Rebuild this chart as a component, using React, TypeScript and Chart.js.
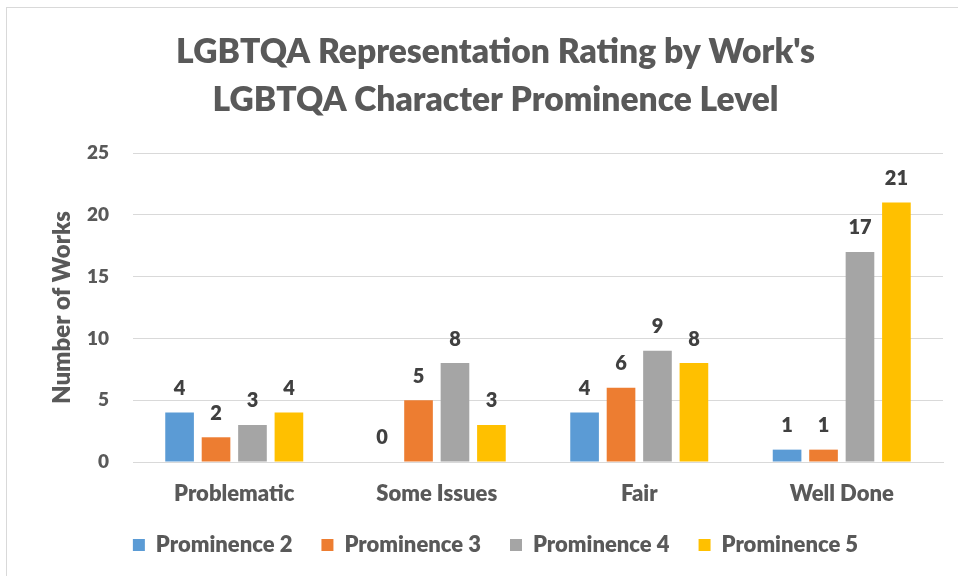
import React, { useEffect, useRef } from "react";
import { Chart, registerables } from "chart.js";

Chart.register(...registerables);

const categories = ["Problematic", "Some Issues", "Fair", "Well Done"];
const seriesNames = ["Prominence 2", "Prominence 3", "Prominence 4", "Prominence 5"];
const prominence2 = [4, 0, 4, 1];
const prominence3 = [2, 5, 6, 1];
const prominence4 = [3, 8, 9, 17];
const prominence5 = [4, 3, 8, 21];
const seriesColors = ["#5B9BD5", "#ED7D31", "#A5A5A5", "#FFC000"];
const titleLines = ["LGBTQA Representation Rating by Work's", "LGBTQA Character Prominence Level"];
const yAxisTitle = "Number of Works";

const FONT = "Lato, 'Open Sans', sans-serif";
const W = "800";

const dataLabels = {
  id: "dataLabels",
  afterDatasetsDraw(chart: any) {
    const ctx = chart.ctx;
    ctx.save();
    ctx.font = `${W} 20px ${FONT}`;
    ctx.fillStyle = "#404040";
    ctx.textAlign = "center";
    ctx.textBaseline = "middle";
    chart.data.datasets.forEach((ds: any, i: number) => {
      const meta = chart.getDatasetMeta(i);
      meta.data.forEach((bar: any, j: number) => {
        ctx.fillText(String(ds.data[j]), bar.x, bar.y - 24);
      });
    });
    ctx.restore();
  },
};

const frame = {
  id: "frame",
  beforeDraw(chart: any) {
    const ctx = chart.ctx;
    ctx.save();
    ctx.fillStyle = "#ffffff";
    ctx.fillRect(0, 0, chart.width, chart.height);
    ctx.strokeStyle = "#d9d9d9";
    ctx.lineWidth = 1;
    ctx.strokeRect(6.5, 7.5, chart.width + 20, chart.height + 20);
    ctx.restore();
  },
};

export default function App() {
  const ref = useRef<HTMLCanvasElement>(null);
  useEffect(() => {
    document.body.style.margin = "0";
    const values = [prominence2, prominence3, prominence4, prominence5];
    const chart = new Chart(ref.current!, {
      type: "bar",
      data: {
        labels: categories,
        datasets: values.map((v, i) => ({
          label: seriesNames[i],
          data: v,
          backgroundColor: seriesColors[i],
          barPercentage: 0.786,
          categoryPercentage: 0.72,
        })),
      },
      options: {
        animation: false,
        responsive: false,
        layout: { padding: { left: 48, right: 15, top: 20, bottom: 10 } },
        plugins: {
          title: {
            display: true,
            text: titleLines,
            color: "#595959",
            font: { family: FONT, size: 33.6, weight: W, lineHeight: 48 / 33.6 },
            padding: { top: 8, bottom: 29 },
          },
          legend: {
            position: "bottom",
            labels: {
              color: "#595959",
              font: { family: FONT, size: 22, weight: W },
              boxWidth: 12,
              boxHeight: 12,
              padding: 29,
            },
          },
          tooltip: { enabled: false },
        },
        scales: {
          x: {
            grid: { display: false, drawTicks: false },
            border: { color: "#d9d9d9" },
            ticks: {
              color: "#595959",
              font: { family: FONT, size: 22, weight: W },
              padding: 19,
            },
            afterFit(scale: any) {
              scale.height = 43;
            },
          },
          y: {
            min: 0,
            max: 25,
            grid: { color: "#d9d9d9", drawTicks: false },
            border: { display: false },
            ticks: {
              stepSize: 5,
              color: "#595959",
              font: { family: FONT, size: 19, weight: W },
              padding: 24,
            },
            title: {
              display: true,
              text: yAxisTitle,
              color: "#595959",
              font: { family: FONT, size: 24, weight: W },
              padding: { top: 0, bottom: 0 },
            },
            afterFit(scale: any) {
              scale.width = 85;
            },
          },
        },
      },
      plugins: [frame, dataLabels],
    });
    return () => chart.destroy();
  }, []);
  return <canvas ref={ref} width={958} height={576} style={{ display: "block" }} />;
}
